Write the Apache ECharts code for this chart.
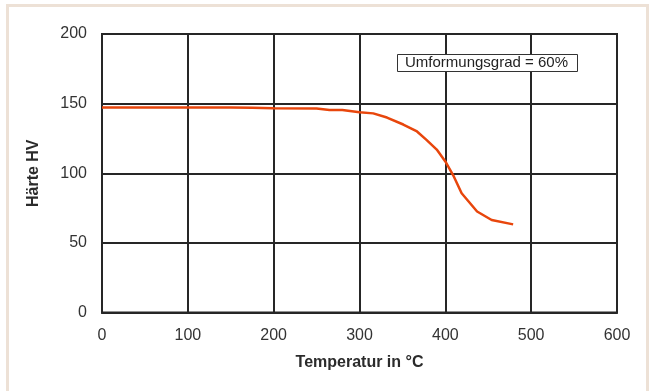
<!DOCTYPE html>
<html>
<head>
<meta charset="utf-8">
<script src="https://cdn.jsdelivr.net/npm/echarts@6/dist/echarts.min.js"></script>
<style>
html,body{margin:0;padding:0;background:#fff;}
#chart{width:649px;height:391px;}
</style>
</head>
<body>
<div id="chart"></div>
<script>
// Data
var temperatures = [0, 50, 100, 150, 175, 200, 250, 265, 280, 300, 316, 332, 351, 367, 378, 390, 400, 410, 419, 437, 454, 479];
var hardness     = [147.2, 147.2, 147.2, 147.2, 147, 146.6, 146.5, 145.5, 145.4, 143.8, 143, 140, 135, 130, 124, 117, 108.5, 97.5, 85.6, 72.5, 66.4, 63.3];
var xTicks = [0, 100, 200, 300, 400, 500, 600];
var yTicks = [0, 50, 100, 150, 200];
var xTitle = 'Temperatur in °C';
var yTitle = 'Härte HV';
var annotation = 'Umformungsgrad = 60%';

var seriesData = temperatures.map(function (t, i) { return [t, hardness[i]]; });

var chart = echarts.init(document.getElementById('chart'), null, {renderer: 'canvas'});
var font = 'Liberation Sans, Arial, sans-serif';
var gridColor = '#262626';

chart.setOption({
  backgroundColor: '#ffffff',
  animation: false,
  grid: {left: 102, right: 32, top: 34, bottom: 78.5, show: true, borderColor: gridColor, borderWidth: 2},
  xAxis: {
    type: 'value',
    min: xTicks[0], max: xTicks[xTicks.length - 1], interval: 100,
    name: xTitle, nameLocation: 'middle', nameGap: 42,
    nameTextStyle: {fontFamily: font, fontSize: 16, fontWeight: 'bold', color: '#2b2b2b'},
    axisLine: {show: true, lineStyle: {color: gridColor, width: 2}},
    axisTick: {show: false},
    axisLabel: {fontFamily: font, fontSize: 16, color: '#333', margin: 15},
    splitLine: {show: true, lineStyle: {color: gridColor, width: 2}}
  },
  yAxis: {
    type: 'value',
    min: yTicks[0], max: yTicks[yTicks.length - 1], interval: 50,
    name: yTitle, nameLocation: 'middle', nameGap: 60, nameRotate: 90,
    nameTextStyle: {fontFamily: font, fontSize: 16, fontWeight: 'bold', color: '#2b2b2b'},
    axisLine: {show: true, lineStyle: {color: gridColor, width: 2}},
    axisTick: {show: false},
    axisLabel: {fontFamily: font, fontSize: 16, color: '#333', margin: 15},
    splitLine: {show: true, lineStyle: {color: gridColor, width: 2}}
  },
  series: [{
    type: 'line',
    data: seriesData,
    showSymbol: false,
    smooth: false,
    lineStyle: {color: '#e8460c', width: 2.5},
    z: 5
  }],
  graphic: [
    {type: 'rect', shape: {x: 7.5, y: 5.5, width: 640, height: 400}, style: {fill: 'none', stroke: '#ede1d6', lineWidth: 3}, z: 0, silent: true},
    {type: 'rect', shape: {x: 397.5, y: 54.5, width: 180, height: 17}, style: {fill: '#ffffff', stroke: '#333', lineWidth: 1}, z: 10},
    {type: 'text', x: 405, y: 63, style: {text: annotation, fontFamily: font, fontSize: 15, fill: '#222', verticalAlign: 'middle', align: 'left'}, z: 11}
  ]
});
</script>
</body>
</html>
